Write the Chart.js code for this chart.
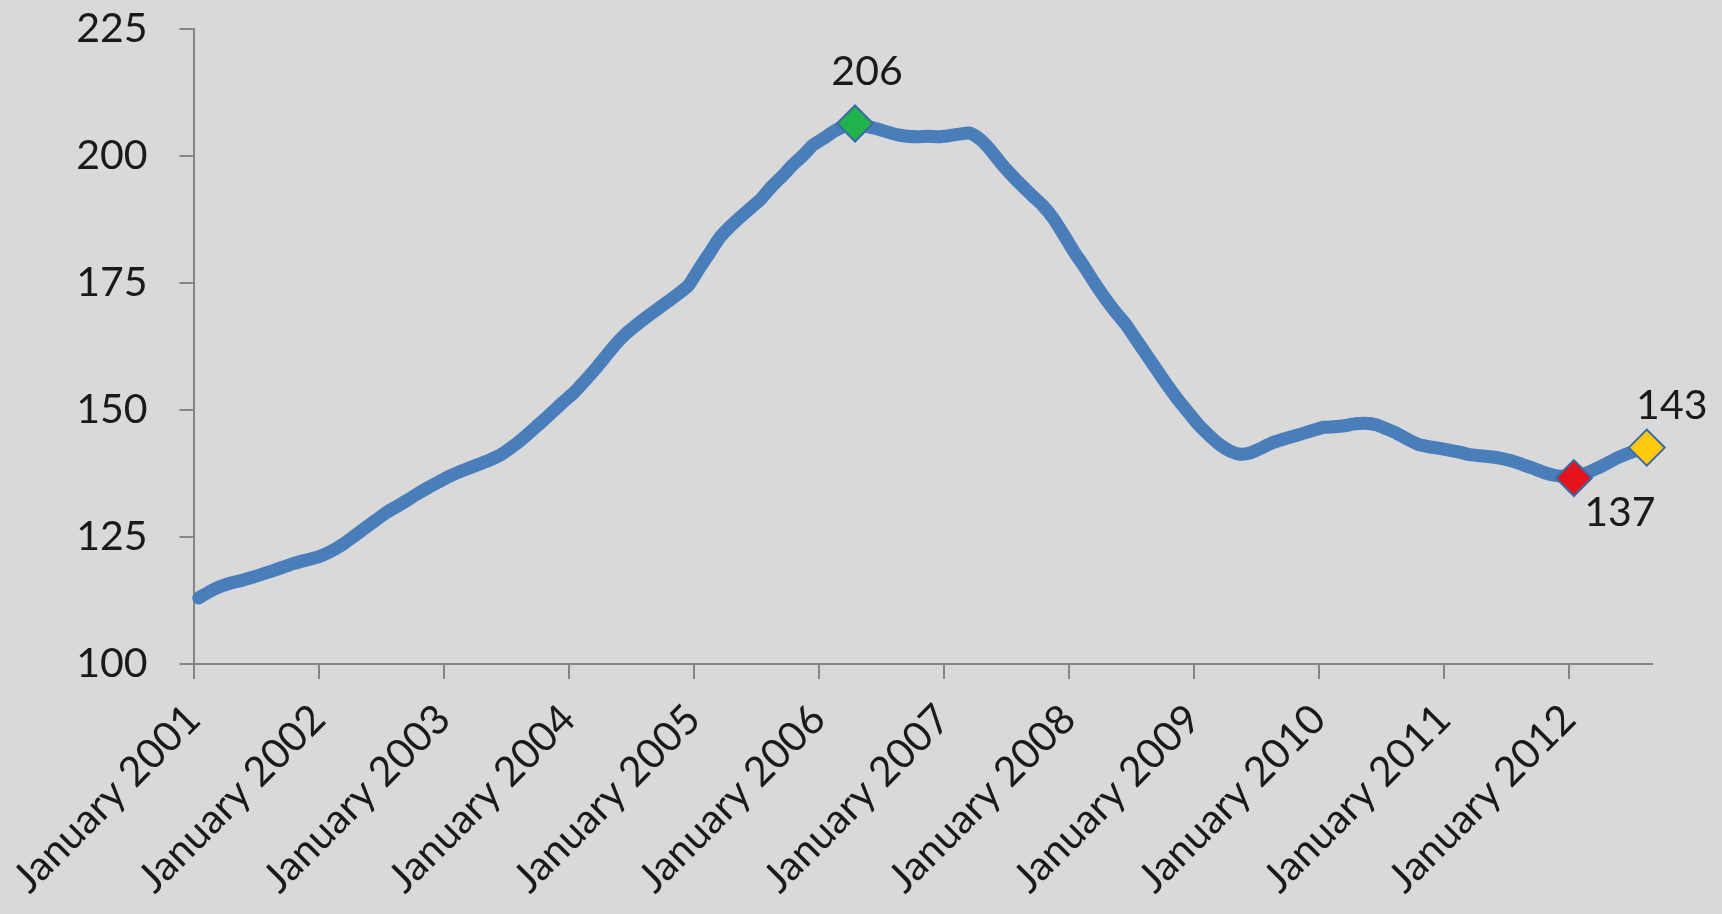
<!DOCTYPE html>
<html>
<head>
<meta charset="utf-8">
<script src="https://cdn.jsdelivr.net/npm/chart.js@4.4.1/dist/chart.umd.min.js"></script>
<style>
  html, body { margin: 0; padding: 0; background: #d9d9d9; }
  #wrap { width: 1722px; height: 914px; position: relative; }
</style>
</head>
<body>
<div id="wrap"><canvas id="c" width="1722" height="914"></canvas></div>
<script>
// ---- data (monthly index, January 2001 .. August 2012) ----
const xTickLabels = ['January 2001','January 2002','January 2003','January 2004','January 2005','January 2006',
                     'January 2007','January 2008','January 2009','January 2010','January 2011','January 2012'];
const yTicks = [100, 125, 150, 175, 200, 225];
const values2001 = [113.0,114.2,115.2,115.9,116.4,117.0,117.6,118.3,119.0,119.7,120.3,120.8];
const values2002 = [121.5,122.5,123.8,125.3,126.8,128.3,129.8,131.0,132.2,133.5,134.7,135.8];
const values2003 = [136.9,137.8,138.6,139.4,140.2,141.2,142.6,144.2,146.0,147.8,149.7,151.6];
const values2004 = [153.4,155.6,157.9,160.4,162.9,165.0,166.7,168.3,169.8,171.3,172.8,174.5];
const values2005 = [177.7,180.8,183.9,186.1,188.0,189.8,191.6,194.0,196.0,198.2,200.1,202.2];
const values2006 = [203.5,204.9,205.9,206.4,205.9,205.4,204.8,204.2,203.9,203.8,203.9,203.8];
const values2007 = [204.0,204.3,204.5,203.3,201.2,198.6,196.3,194.2,192.2,190.3,187.8,184.6];
const values2008 = [181.2,178.2,175.0,172.0,169.3,166.8,163.8,160.8,157.8,154.8,152.0,149.5];
const values2009 = [147.0,145.0,143.2,141.9,141.3,141.6,142.5,143.5,144.2,144.8,145.4,146.0];
const values2010 = [146.6,146.7,146.9,147.3,147.4,147.1,146.3,145.4,144.3,143.3,142.8,142.5];
const values2011 = [142.1,141.7,141.2,141.0,140.8,140.5,140.0,139.3,138.6,137.8,137.2,136.9];
const values2012 = [136.6,137.4,138.3,139.3,140.4,141.3,142.0,142.6];

const values = [].concat(values2001, values2002, values2003, values2004, values2005, values2006,
                         values2007, values2008, values2009, values2010, values2011, values2012);

// highlighted points: peak, trough after the peak, last value
const peakIdx = values.indexOf(Math.max(...values));
const afterPeak = values.slice(peakIdx);
const troughIdx = peakIdx + afterPeak.indexOf(Math.min(...afterPeak));
const lastIdx = values.length - 1;
const highlight = {};
highlight[peakIdx]   = { fill: '#21b24b', dx: 12, dy: -52 };
highlight[troughIdx] = { fill: '#e3141c', dx: 46, dy: 35 };
highlight[lastIdx]   = { fill: '#ffc90e', dx: 25, dy: -42 };

const FONT = 'Lato, "Open Sans", sans-serif';
const points = values.map((v, i) => ({ x: i + 0.5, y: v }));

const bgPlugin = {
  id: 'bg',
  beforeDraw(chart) {
    const ctx = chart.ctx;
    ctx.save();
    ctx.fillStyle = '#d9d9d9';
    ctx.fillRect(0, 0, chart.width, chart.height);
    ctx.restore();
  }
};

const labelPlugin = {
  id: 'ptLabels',
  afterDatasetsDraw(chart) {
    const ctx = chart.ctx;
    const meta = chart.getDatasetMeta(0);
    ctx.save();
    ctx.font = '41px ' + FONT;
    ctx.fillStyle = '#1a1a1a';
    ctx.textAlign = 'center';
    ctx.textBaseline = 'middle';
    Object.keys(highlight).forEach(k => {
      const i = +k, h = highlight[k];
      const el = meta.data[i];
      ctx.fillText(String(Math.round(values[i])), el.x + h.dx, el.y + h.dy);
    });
    ctx.restore();
  }
};

new Chart(document.getElementById('c'), {
  type: 'line',
  data: {
    datasets: [{
      data: points,
      clip: false,
      borderColor: '#4a7ebb',
      borderWidth: 13,
      borderCapStyle: 'round',
      borderJoinStyle: 'round',
      tension: 0.2,
      fill: false,
      pointStyle: 'rectRot',
      pointRadius: ctx => highlight[ctx.dataIndex] ? 18 : 0,
      pointHoverRadius: ctx => highlight[ctx.dataIndex] ? 18 : 0,
      pointBackgroundColor: ctx => highlight[ctx.dataIndex] ? highlight[ctx.dataIndex].fill : 'transparent',
      pointBorderColor: '#3a6aa5',
      pointBorderWidth: 2
    }]
  },
  options: {
    responsive: false,
    animation: false,
    events: [],
    layout: { padding: { top: 29, right: 70, left: 0, bottom: 0 } },
    plugins: { legend: { display: false }, tooltip: { enabled: false } },
    scales: {
      x: {
        type: 'linear',
        min: 0,
        max: values.length,
        afterBuildTicks: scale => { scale.ticks = xTickLabels.map((_, k) => ({ value: k * 12 })); },
        afterFit: scale => {
          scale.height = 250;
          scale.paddingLeft = 0; scale.paddingRight = 0; scale.paddingTop = 0; scale.paddingBottom = 0;
        },
        border: { color: '#868686', width: 2 },
        grid: { drawOnChartArea: false, drawTicks: true, tickLength: 15, color: '#868686', lineWidth: 2 },
        ticks: {
          autoSkip: false,
          minRotation: 45, maxRotation: 45,
          padding: 16,
          color: '#1a1a1a',
          font: { family: FONT, size: 41 },
          callback: (v, i) => xTickLabels[i]
        }
      },
      y: {
        min: yTicks[0],
        max: yTicks[yTicks.length - 1],
        afterBuildTicks: scale => { scale.ticks = yTicks.map(v => ({ value: v })); },
        afterFit: scale => {
          scale.width = 193.5;
          scale.paddingLeft = 0; scale.paddingRight = 0; scale.paddingTop = 0; scale.paddingBottom = 0;
        },
        border: { color: '#868686', width: 2 },
        grid: { drawOnChartArea: false, drawTicks: true, tickLength: 14, color: '#868686', lineWidth: 2 },
        ticks: {
          padding: 32,
          color: '#1a1a1a',
          font: { family: FONT, size: 41 }
        }
      }
    }
  },
  plugins: [bgPlugin, labelPlugin]
});
</script>
</body>
</html>
